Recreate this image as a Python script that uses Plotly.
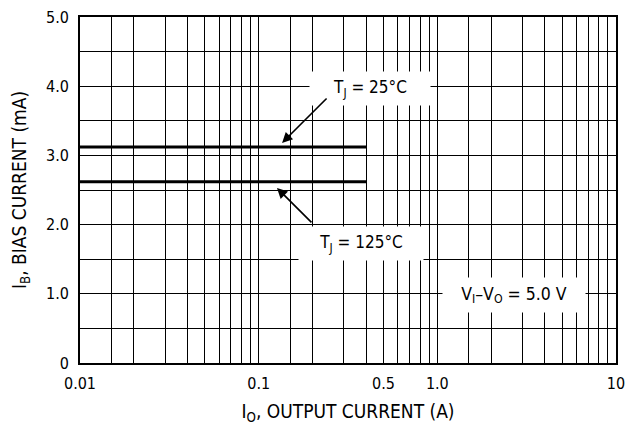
import plotly.graph_objects as go

# ---- data ----
io_25 = [0.01, 0.4]          # output current (A)
ib_25 = [3.12, 3.12]         # bias current (mA), TJ = 25 C
io_125 = [0.01, 0.4]
ib_125 = [2.62, 2.62]        # bias current (mA), TJ = 125 C

x_major = [0.01, 0.1, 0.5, 1.0, 10]
x_major_text = ["0.01", "0.1", "0.5", "1.0", "10"]
x_minor = [0.015, 0.02, 0.03, 0.04, 0.05, 0.06, 0.07, 0.08, 0.09,
           0.15, 0.2, 0.3, 0.4, 0.6, 0.7, 0.8, 0.9,
           1.5, 2, 3, 4, 5, 6, 7, 8, 9]
y_major = [0, 1.0, 2.0, 3.0, 4.0, 5.0]
y_major_text = ["0", "1.0", "2.0", "3.0", "4.0", "5.0"]
y_minor = [0.5, 1.5, 2.5, 3.5, 4.5]

FONT = "DejaVu Sans Condensed, Liberation Sans Narrow, Arial Narrow, sans-serif"
GRID = dict(showgrid=True, gridcolor="black", gridwidth=1.4)

fig = go.Figure()
fig.add_trace(go.Scatter(x=io_25, y=ib_25, mode="lines",
                         line=dict(color="black", width=3), showlegend=False))
fig.add_trace(go.Scatter(x=io_125, y=ib_125, mode="lines",
                         line=dict(color="black", width=3), showlegend=False))

# page body has an 8px default margin, so the figure is 8px smaller
fig.update_layout(
    width=632, height=419,
    margin=dict(l=72, r=24, t=9, b=64),
    paper_bgcolor="white", plot_bgcolor="white",
    font=dict(family=FONT, size=16, color="black"),
    xaxis=dict(type="log", range=[-2, 1], automargin=False,
               tickmode="array", tickvals=x_major, ticktext=x_major_text,
               tickangle=0, ticklabeloverflow="allow",
               minor=dict(tickmode="array", tickvals=x_minor, ticks="", **GRID),
               showline=True, linecolor="black", linewidth=1.6, mirror=True,
               ticks="", ticklabelstandoff=5, **GRID,
               title=dict(text="I<sub>O</sub>, OUTPUT CURRENT (A)", standoff=13,
                          font=dict(size=19))),
    yaxis=dict(range=[0, 5], automargin=False,
               tickmode="array", tickvals=y_major, ticktext=y_major_text,
               ticklabeloverflow="allow",
               minor=dict(tickmode="array", tickvals=y_minor, ticks="", **GRID),
               zeroline=False,
               showline=True, linecolor="black", linewidth=1.6, mirror=True,
               ticks="", ticklabelstandoff=6, **GRID,
               title=dict(text="I<sub>B</sub>, BIAS CURRENT (mA)", standoff=17,
                          font=dict(size=19))),
)

# text boxes (white background breaks grid)
fig.add_annotation(text="T<sub>J</sub> = 25°C", xref="paper", yref="paper",
                   x=0.541, y=0.7934, showarrow=False, bgcolor="white",
                   width=118, height=31, xanchor="center", yanchor="middle",
                   font=dict(size=17))
fig.add_annotation(text="T<sub>J</sub> = 125°C", xref="paper", yref="paper",
                   x=0.525, y=0.3454, showarrow=False, bgcolor="white",
                   width=122, height=31, xanchor="center", yanchor="middle",
                   font=dict(size=17))
fig.add_annotation(text="V<sub>I</sub>–V<sub>O</sub> = 5.0 V", xref="paper", yref="paper",
                   x=0.8097, y=0.1965, showarrow=False, bgcolor="white",
                   width=140, height=32, xanchor="center", yanchor="middle",
                   font=dict(size=17.5))

# arrows
fig.add_annotation(text="", xref="paper", yref="paper", x=0.377, y=0.636,
                   ax=46, ay=-46, showarrow=True, arrowhead=2, arrowsize=1.3,
                   arrowwidth=1.6, arrowcolor="black")
fig.add_annotation(text="", xref="paper", yref="paper", x=0.3675, y=0.506,
                   ax=36, ay=36, showarrow=True, arrowhead=2, arrowsize=1.3,
                   arrowwidth=1.6, arrowcolor="black")

fig.write_html("out.html")
